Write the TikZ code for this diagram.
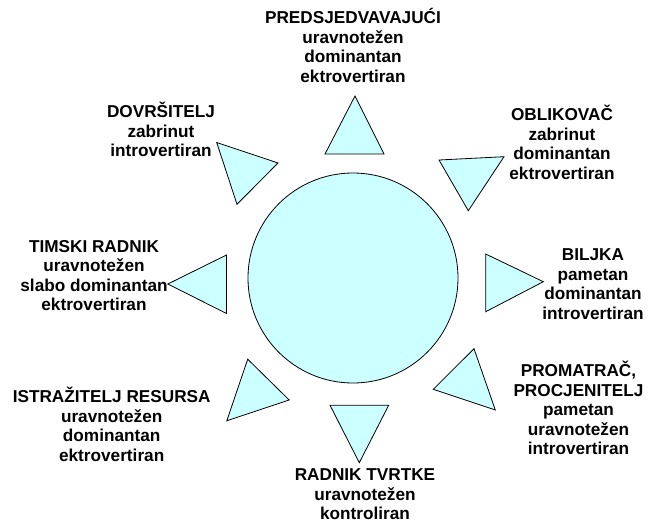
\documentclass[tikz,border=0pt]{standalone}
\usepackage{fontspec}
\setmainfont{Liberation Sans}
\definecolor{sky}{HTML}{CCFFFF}
\begin{document}
\begin{tikzpicture}[x=1pt,y=-1pt,
        wedge/.style={draw,fill=sky,line width=0.8pt,line join=miter},
        role/.style={anchor=base,align=center,inner sep=0pt,font=\bfseries\fontsize{17.2}{19.5}\selectfont}]
    \useasboundingbox (0,0) rectangle (648,525);
    \draw[wedge] (353,278) circle (105);
    \draw[wedge] (355,96) -- (325,154) -- (384,154) -- cycle;
    \draw[wedge] (216.7,142.5) -- (278,163) -- (237,204.3) -- cycle;
    \draw[wedge] (439,160) -- (504,156.7) -- (468.3,210.7) -- cycle;
    \draw[wedge] (226.5,255) -- (167.8,284) -- (226.5,313.5) -- cycle;
    \draw[wedge] (485.7,254) -- (543.3,281.7) -- (485.7,311.7) -- cycle;
    \draw[wedge] (247.7,359.2) -- (289.2,400) -- (226.8,420.8) -- cycle;
    \draw[wedge] (330,405.2) -- (388.7,405.2) -- (359.3,462.7) -- cycle;
    \draw[wedge] (474,348.7) -- (433.3,389.3) -- (495.3,410) -- cycle;
    \node[role] (chair) at (353,82) {PREDSJEDVAVAJUĆI\\uravnotežen\\dominantan\\ektrovertiran};
    \node[role] (finisher) at (161,156.5) {DOVRŠITELJ\\zabrinut\\introvertiran};
    \node[role] (shaper) at (562,179) {OBLIKOVAČ\\zabrinut\\dominantan\\ektrovertiran};
    \node[role] (team) at (94,310.8) {TIMSKI RADNIK\\uravnotežen\\slabo dominantan\\ektrovertiran};
    \node[role] (plant) at (593,319) {BILJKA\\pametan\\dominantan\\introvertiran};
    \node[role] (monitor) at (578.5,454.5) {PROMATRAČ,\\PROCJENITELJ\\pametan\\uravnotežen\\introvertiran};
    \node[role] (worker) at (365,519.5) {RADNIK TVRTKE\\uravnotežen\\kontroliran};
    \node[role] (resource) at (111.7,461.2) {ISTRAŽITELJ RESURSA\\uravnotežen\\dominantan\\ektrovertiran};
\end{tikzpicture}
\end{document}
